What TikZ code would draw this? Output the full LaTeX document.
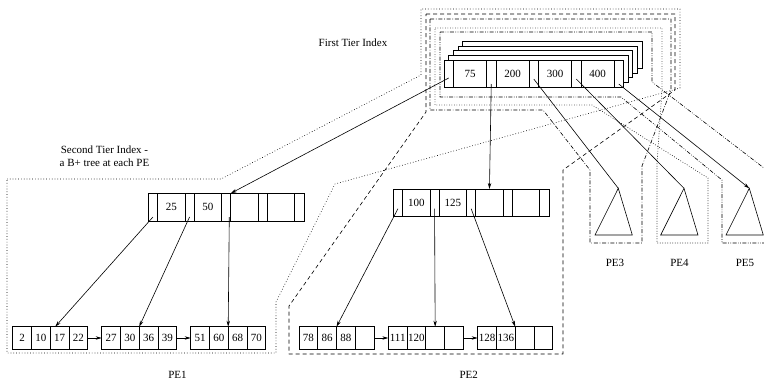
\documentclass[tikz,border=0pt]{standalone}
\usepackage{fontspec}
\setmainfont{Liberation Serif}
\usetikzlibrary{positioning,arrows.meta}

\begin{document}
\begin{tikzpicture}[
                    x=1pt, y=-1pt,
                    every node/.style={font=\fontsize{11}{13.4}\selectfont},
                    cell/.style={draw, fill=white, line width=0.7pt, inner sep=0pt, outer sep=0pt},
                    topptr/.style={cell, minimum width=9.5pt, minimum height=27pt},
                    topkey/.style={cell, minimum width=33pt, minimum height=27pt},
                    ptrcell/.style={cell, minimum width=9.3pt, minimum height=27.7pt},
                    keycell/.style={cell, minimum width=27.3pt, minimum height=27.7pt},
                    leafcell/.style={cell, minimum width=18.75pt, minimum height=22.6pt},
                    link/.style={line width=0.6pt, -{Stealth[length=6pt,width=3.4pt]}},
                    bare/.style={line width=0.6pt},
                    region/.style={line width=0.6pt, line join=round},
                    pe1line/.style={region, dash pattern=on 0.7pt off 2.1pt},
                    pe2line/.style={region, dash pattern=on 4pt off 3pt},
                    pe3line/.style={region, dash pattern=on 4pt off 1.8pt on 0.7pt off 1.8pt},
                    pe4line/.style={region, dash pattern=on 0.7pt off 1.8pt},
                    pe5line/.style={region, dash pattern=on 4pt off 1.5pt on 0.7pt off 1.5pt on 0.7pt off 1.5pt},
                ]
                \useasboundingbox (0,0) rectangle (764,381);

                % regions of the five PEs
                \draw[pe1line] (7,179) -- (221,179) -- (421,75) -- (421,9) -- (680,9) -- (680,88) -- (335,184) -- (276,302) -- (276,353) -- (7,353) -- cycle;
                \draw[pe2line] (426,14) -- (675,14) -- (675,90) -- (563,170) -- (563,354) -- (289,354) -- (289,306) -- (426,112) -- cycle;
                \draw[pe3line] (430,19) -- (671,19) -- (671,90) -- (642,166) -- (642,243) -- (590,243) -- (590,170) -- (543,110) -- (430,110) -- cycle;
                \draw[pe4line] (435,28) -- (662,28) -- (662,90) -- (657,164) -- (657,243) -- (708,243) -- (708,178) -- (592,105) -- (435,105) -- cycle;
                \draw[pe5line] (440,32) -- (652,32) -- (652,82) -- (790,188) -- (790,243) -- (722,243) -- (722,180) -- (621,97) -- (440,97) -- cycle;

                % first tier index (copies stacked behind)
                \foreach \k in {4,3,2,1}
                    \draw[cell] (444+4.67*\k, 60-4.67*\k) rectangle ++(179.5,27);
                \node[topptr, anchor=north west] (ftp0) at (444,60) {};
                \foreach \t [count=\i] in {75,200,300,400} {
                    \pgfmathtruncatemacro\j{\i-1}
                    \node[topkey, right=0pt of ftp\j] (ftk\i) {\t};
                    \node[topptr, right=0pt of ftk\i] (ftp\i) {};
                }

                % roots of the B+ trees
                \node[ptrcell, anchor=north west] (rap0) at (148.3,193.3) {};
                \foreach \t [count=\i] in {25,50,{},{}} {
                    \pgfmathtruncatemacro\j{\i-1}
                    \node[keycell, right=0pt of rap\j] (rak\i) {\t};
                    \node[ptrcell, right=0pt of rak\i] (rap\i) {};
                }
                \node[ptrcell, anchor=north west] (rbp0) at (393.3,189) {};
                \foreach \t [count=\i] in {100,125,{},{}} {
                    \pgfmathtruncatemacro\j{\i-1}
                    \node[keycell, right=0pt of rbp\j] (rbk\i) {\t};
                    \node[ptrcell, right=0pt of rbk\i] (rbp\i) {};
                }

                % leaves
                \foreach \n/\x/\keys in {a1/12.7/{2,10,17,22}, a2/101.7/{27,30,36,39}, a3/190.7/{51,60,68,70},
                                         b1/299/{78,86,88,{}}, b2/388.3/{111,120,{},{}}, b3/477.7/{128,136,{},{}}} {
                    \foreach \t [count=\i] in \keys
                        \node[leafcell, anchor=north west] (\n\i) at (\x+18.75*\i-18.75, 326.7) {\t};
                }

                % PE3, PE4, PE5 trees
                \coordinate (t3) at (618.3,188.3);
                \coordinate (t4) at (684,188.3);
                \coordinate (t5) at (749.3,188.3);
                \foreach \c in {t3,t4,t5}
                    \draw[bare] (\c) -- ++(-23.3,46.7) -- ++(37.3,0) -- cycle;

                % labels
                \node (ftlabel) at (353,43) {First Tier Index};
                \node[align=center] (stlabel) at (104.5,156) {Second Tier Index -\\ a B+ tree at each PE};
                \node[anchor=base] (pe1) at (177.5,378.6) {PE1};
                \node[anchor=base] (pe2) at (468.7,378.6) {PE2};
                \node (pe3) at (615,263) {PE3};
                \node (pe4) at (679.5,263) {PE4};
                \node (pe5) at (745,263) {PE5};

                % first tier pointers
                \draw[link] ([yshift=9pt]ftp0.south) -- (rap2.north east);
                \draw[link] ([yshift=3pt]ftp1.south) -- (rbk3.north);
                \draw[bare] ([yshift=8pt]ftp2.south) -- (t3);
                \draw[bare] ([yshift=8pt]ftp3.south) -- (t4);
                \draw[link] ([yshift=3pt]ftp4.south) -- (t5);

                % second tier pointers
                \draw[link] ([yshift=4pt]rap0.south) -- ([xshift=5pt]a13.north west);
                \draw[link] ([yshift=4pt]rap1.south) -- (a23.north west);
                \draw[link] ([xshift=-1.5pt,yshift=4pt]rap2.south east) -- (a33.north west);
                \draw[link] ([yshift=8pt]rbp0.south) -- (b13.north west);
                \draw[link] ([yshift=8pt]rbp1.south) -- (b23.north);
                \draw[link] ([yshift=8pt]rbp2.south) -- (b33.north west);

                % leaf chains
                \draw[link] (a14.east) -- (a21.west);
                \draw[link] (a24.east) -- (a31.west);
                \draw[link] (b14.east) -- (b21.west);
                \draw[link] (b24.east) -- (b31.west);
            \end{tikzpicture}
\end{document}
